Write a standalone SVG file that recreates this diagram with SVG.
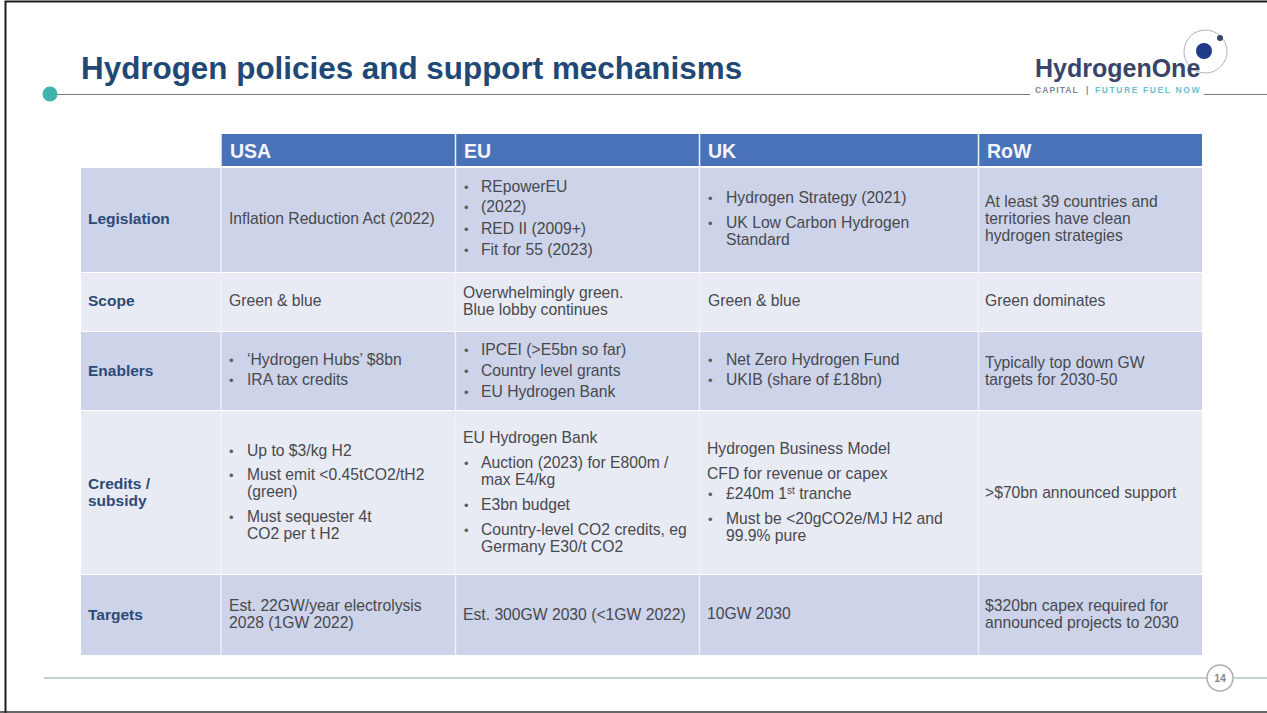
<svg xmlns="http://www.w3.org/2000/svg" width="1267" height="713" viewBox="0 0 1267 713">
<style>
text{font-family:"Liberation Sans",Arial,sans-serif;fill:#47494d;font-size:15.7px}
.h{fill:#f4f6fb;font-weight:bold;font-size:19.5px}
.r{fill:#2b4a78;font-weight:bold;font-size:15.5px}
.b{font-size:13px;fill:#5a5d62}
.d{fill:#cdd3e9}.l{fill:#e8eaf4}
</style>
<rect x="0" y="0" width="1267" height="713" fill="#fff"/>
<path d="M5.500 713V1.500H1267" fill="none" stroke="#1c1c1c" stroke-width="2"/>
<path d="M0 712H1267" stroke="#333" stroke-width="1.500"/>
<g id="title">
<text x="81" y="79" style="font-size:31.400px;font-weight:bold;fill:#1f4876">Hydrogen policies and support mechanisms</text>
<path d="M55 94.500H1030M1204 94.500H1267" stroke="#6d7a85" stroke-width="1.200"/>
<circle cx="50" cy="94" r="7.500" fill="#40b3ad"/>
</g>
<g id="logo">
<circle cx="1205.500" cy="51.500" r="21.500" fill="none" stroke="#aeb2bf" stroke-width="1"/>
<text x="1035" y="77" style="font-size:25px;font-weight:bold;fill:#3a4468">HydrogenOne</text>
<text x="1035" y="93" style="font-size:8.500px;font-weight:bold;fill:#7f8598;letter-spacing:1.100px">CAPITAL</text>
<text x="1086" y="93" style="font-size:8.500px;font-weight:bold;fill:#7f8598">|</text>
<text x="1095" y="93" style="font-size:8.500px;font-weight:bold;fill:#6cc0cc;letter-spacing:1.600px">FUTURE FUEL NOW</text>
<circle cx="1204" cy="51" r="8" fill="#1f3a86"/>
<circle cx="1220" cy="38" r="3" fill="#3a4468"/>
</g>
<g id="table">
<rect x="221" y="134" width="981" height="32" fill="#4a72b8"/>
<rect class="d" x="81" y="168" width="1121" height="104"/>
<rect class="l" x="81" y="273" width="1121" height="58"/>
<rect class="d" x="81" y="332" width="1121" height="78"/>
<rect class="l" x="81" y="411" width="1121" height="163"/>
<rect class="d" x="81" y="575" width="1121" height="80"/>
<path d="M221 134V655M455.500 134V655M699.500 134V655M978.500 134V655" stroke="#f0f2f8" stroke-width="1.500"/>
</g>
<g id="header">
<text class="h" x="230" y="158">USA</text>
<text class="h" x="464" y="158">EU</text>
<text class="h" x="708" y="158">UK</text>
<text class="h" x="987" y="158">RoW</text>
</g>
<g id="row-legislation">
<text class="r" x="88" y="224">Legislation</text>
<text x="229" y="224">Inflation Reduction Act (2022)</text>
<text class="b" x="464" y="192">•</text><text x="481" y="192">REpowerEU</text>
<text class="b" x="464" y="212">•</text><text x="481" y="212">(2022)</text>
<text class="b" x="464" y="234">•</text><text x="481" y="234">RED II (2009+)</text>
<text class="b" x="464" y="255">•</text><text x="481" y="255">Fit for 55 (2023)</text>
<text class="b" x="708" y="203">•</text><text x="726" y="203">Hydrogen Strategy (2021)</text>
<text class="b" x="708" y="228">•</text><text x="726" y="228">UK Low Carbon Hydrogen</text>
<text x="726" y="245">Standard</text>
<text x="985" y="207">At least 39 countries and</text>
<text x="985" y="224">territories have clean</text>
<text x="985" y="241">hydrogen strategies</text>
</g>
<g id="row-scope">
<text class="r" x="88" y="306">Scope</text>
<text x="229" y="306">Green &amp; blue</text>
<text x="463" y="298">Overwhelmingly green.</text>
<text x="463" y="315">Blue lobby continues</text>
<text x="708" y="306">Green &amp; blue</text>
<text x="985" y="306">Green dominates</text>
</g>
<g id="row-enablers">
<text class="r" x="88" y="376">Enablers</text>
<text class="b" x="229" y="365">•</text><text x="247" y="365">‘Hydrogen Hubs’ $8bn</text>
<text class="b" x="229" y="385">•</text><text x="247" y="385">IRA tax credits</text>
<text class="b" x="464" y="355">•</text><text x="481" y="355">IPCEI (&gt;E5bn so far)</text>
<text class="b" x="464" y="376">•</text><text x="481" y="376">Country level grants</text>
<text class="b" x="464" y="397">•</text><text x="481" y="397">EU Hydrogen Bank</text>
<text class="b" x="708" y="365">•</text><text x="726" y="365">Net Zero Hydrogen Fund</text>
<text class="b" x="708" y="385">•</text><text x="726" y="385">UKIB (share of £18bn)</text>
<text x="985" y="368">Typically top down GW</text>
<text x="985" y="385">targets for 2030-50</text>
</g>
<g id="row-credits">
<text class="r" x="88" y="489">Credits /</text>
<text class="r" x="88" y="506">subsidy</text>
<text class="b" x="229" y="456">•</text><text x="247" y="456">Up to $3/kg H2</text>
<text class="b" x="229" y="480">•</text><text x="247" y="480">Must emit &lt;0.45tCO2/tH2</text>
<text x="247" y="497">(green)</text>
<text class="b" x="229" y="522">•</text><text x="247" y="522">Must sequester 4t</text>
<text x="247" y="539">CO2 per t H2</text>
<text x="463" y="443">EU Hydrogen Bank</text>
<text class="b" x="464" y="468">•</text><text x="481" y="468">Auction (2023) for E800m /</text>
<text x="481" y="485">max E4/kg</text>
<text class="b" x="464" y="510">•</text><text x="481" y="510">E3bn budget</text>
<text class="b" x="464" y="535">•</text><text x="481" y="535">Country-level CO2 credits, eg</text>
<text x="481" y="552">Germany E30/t CO2</text>
<text x="707" y="454">Hydrogen Business Model</text>
<text x="707" y="479">CFD for revenue or capex</text>
<text class="b" x="708" y="499">•</text><text x="726" y="499">£240m 1<tspan dy="-5" style="font-size:10px">st</tspan><tspan dy="5"> tranche</tspan></text>
<text class="b" x="708" y="524">•</text><text x="726" y="524">Must be &lt;20gCO2e/MJ H2 and</text>
<text x="726" y="541">99.9% pure</text>
<text x="985" y="498">&gt;$70bn announced support</text>
</g>
<g id="row-targets">
<text class="r" x="88" y="620">Targets</text>
<text x="229" y="611">Est. 22GW/year electrolysis</text>
<text x="229" y="628">2028 (1GW 2022)</text>
<text x="463" y="620">Est. 300GW 2030 (&lt;1GW 2022)</text>
<text x="707" y="619">10GW 2030</text>
<text x="985" y="611">$320bn capex required for</text>
<text x="985" y="628">announced projects to 2030</text>
</g>
<g id="footer">
<path d="M44 678H1207M1234 678H1267" stroke="#8fa5a5" stroke-width="1.200"/>
<circle cx="1220" cy="678" r="13" fill="#fff" stroke="#a9aeb0" stroke-width="1.500"/>
<text x="1220" y="682" text-anchor="middle" style="font-size:10.500px;font-weight:bold;fill:#85898c">14</text>
</g>
</svg>
